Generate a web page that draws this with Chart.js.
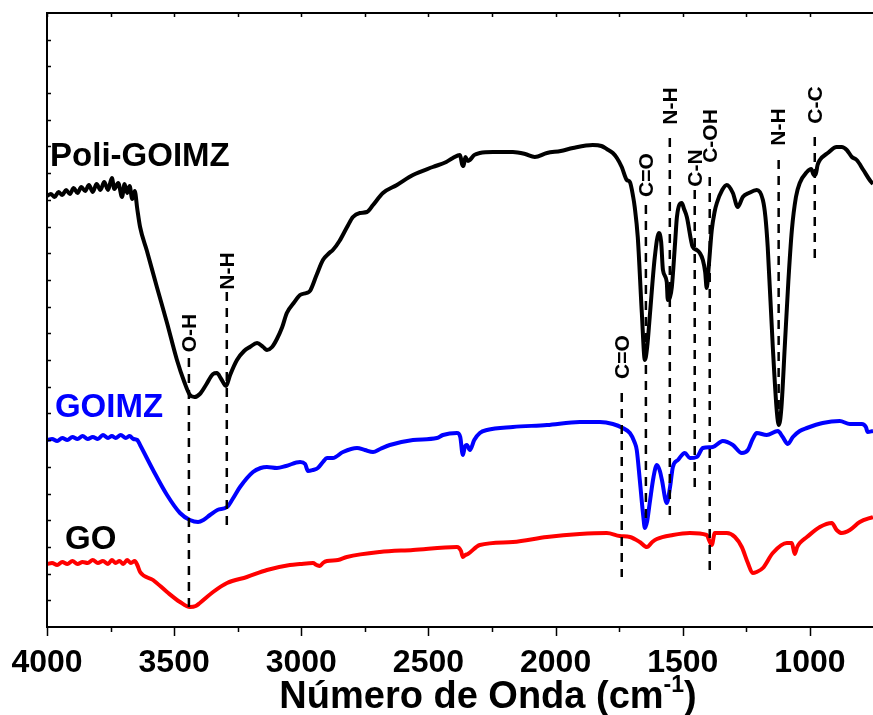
<!DOCTYPE html>
<html>
<head>
<meta charset="utf-8">
<script src="https://cdn.jsdelivr.net/npm/chart.js@4.4.0/dist/chart.umd.min.js"></script>
<style>
html, body { margin: 0; padding: 0; background: #fff; }
</style>
</head>
<body>
<canvas id="ftir" width="873" height="715"></canvas>
<script>
// Poli-GOIMZ (preto)
var wnPoli = [4000, 3985, 3970, 3955, 3940, 3925, 3910, 3895, 3880, 3865, 3850, 3835, 3820, 3805, 3790, 3775, 3760, 3745, 3735, 3720,
    3705, 3695, 3685, 3675, 3665, 3655, 3645, 3634, 3607, 3568, 3528, 3489, 3460, 3438, 3420, 3399, 3375, 3347, 3332, 3315,
    3296, 3280, 3253, 3225, 3202, 3174, 3150, 3135, 3115, 3096, 3075, 3057, 3030, 3005, 2980, 2966, 2940, 2915, 2890, 2876,
    2850, 2820, 2797, 2770, 2742, 2718, 2679, 2624, 2561, 2483, 2430, 2404, 2376, 2368, 2362, 2355, 2345, 2337, 2320, 2298,
    2247, 2168, 2120, 2082, 2034, 1980, 1932, 1854, 1820, 1799, 1775, 1759, 1740, 1720, 1708, 1695, 1689, 1677, 1661, 1649,
    1640, 1630, 1610, 1594, 1585, 1578, 1563, 1559, 1550, 1543, 1530, 1523, 1504, 1495, 1484, 1461, 1445, 1433, 1421, 1412,
    1406, 1398, 1386, 1375, 1366, 1345, 1327, 1303, 1284, 1264, 1240, 1209, 1185, 1175, 1166, 1146, 1130, 1122, 1112, 1099,
    1085, 1071, 1055, 1040, 1012, 995, 985, 978, 970, 961, 930, 895, 875, 855, 835, 816, 790, 765, 752];
var tPoli = [431, 433, 430, 435, 432, 437, 433, 439, 434, 440, 436, 442, 435, 443, 437, 445, 437, 449, 438, 444,
    430, 443, 434, 441, 428, 436, 418, 400, 376, 340, 304, 267, 245, 232, 230, 233, 242, 253, 254, 248,
    241, 252, 267, 276, 280, 284, 280, 277, 280, 288, 300, 314, 324, 332, 334, 336, 352, 367, 374, 377,
    386, 400, 410, 414, 415, 422, 434, 442, 452, 460, 465, 469, 472, 463, 461, 470, 466, 467, 472, 474,
    475, 475, 473, 470, 474, 476, 479, 482, 481, 478, 474, 469, 460, 447, 445, 430, 420, 390, 314, 267,
    280, 310, 370, 394, 385, 357, 345, 327, 330, 340, 385, 410, 424, 418, 410, 380, 377, 374, 367, 355,
    339, 360, 397, 415, 424, 437, 442, 434, 420, 430, 434, 437, 427, 410, 380, 280, 215, 202, 220, 280,
    345, 397, 430, 444, 455, 458, 452, 452, 462, 467, 474, 480, 480, 477, 470, 467, 457, 447, 443];

// GOIMZ (azul)
var wnGoimz = [4000, 3980, 3960, 3940, 3920, 3900, 3880, 3860, 3840, 3820, 3800, 3780, 3760, 3745, 3730, 3710, 3690, 3675, 3660, 3645,
    3634, 3583, 3528, 3477, 3438, 3406, 3385, 3359, 3330, 3292, 3270, 3241, 3190, 3160, 3135, 3096, 3060, 3005, 2985, 2974,
    2955, 2935, 2915, 2899, 2876, 2836, 2781, 2750, 2718, 2690, 2652, 2561, 2467, 2443, 2388, 2375, 2365, 2357, 2349, 2337,
    2320, 2298, 2270, 2168, 2034, 1905, 1826, 1775, 1736, 1708, 1690, 1681, 1669, 1655, 1649, 1640, 1630, 1615, 1602, 1590,
    1582, 1563, 1550, 1539, 1519, 1492, 1472, 1445, 1421, 1382, 1343, 1303, 1268, 1244, 1225, 1209, 1170, 1126, 1107, 1087,
    1067, 1040, 1012, 950, 883, 843, 796, 780, 773, 752];
var tGoimz = [187, 188, 186, 189, 187, 190, 188, 191, 188, 190, 188, 192, 189, 191, 189, 192, 189, 191, 188, 187,
    182, 157, 132, 114, 107, 105, 107, 112, 117, 120, 128, 140, 155, 159, 160, 159, 161, 165, 163, 156,
    157, 159, 165, 169, 169, 175, 179, 177, 175, 178, 182, 187, 189, 192, 194, 190, 172, 180, 182, 177,
    187, 194, 197, 200, 202, 205, 205, 203, 199, 194, 185, 177, 147, 110, 99, 106, 124, 150, 162, 156,
    147, 124, 140, 160, 167, 174, 169, 170, 179, 180, 186, 182, 174, 177, 188, 194, 192, 196, 190, 183,
    190, 196, 199, 204, 206, 203, 203, 200, 195, 196];

// GO (vermelho)
var wnGo = [4000, 3980, 3960, 3940, 3920, 3900, 3880, 3860, 3840, 3820, 3800, 3780, 3760, 3745, 3730, 3715, 3700, 3685, 3670, 3655,
    3645, 3634, 3583, 3528, 3477, 3438, 3415, 3399, 3347, 3292, 3214, 3135, 3045, 3005, 2954, 2940, 2927, 2915, 2899, 2856,
    2821, 2691, 2561, 2388, 2372, 2365, 2355, 2345, 2298, 2168, 2034, 1905, 1799, 1748, 1708, 1669, 1641, 1620, 1602, 1539,
    1472, 1406, 1395, 1386, 1374, 1327, 1295, 1268, 1244, 1225, 1210, 1185, 1146, 1091, 1071, 1060, 1050, 1040, 1012, 961,
    914, 895, 875, 843, 804, 752];
var tGo = [63, 64, 62, 65, 63, 66, 63, 65, 64, 67, 64, 66, 63, 67, 64, 66, 63, 67, 64, 66,
    62, 55, 47, 35, 25, 20, 21, 24, 35, 44, 50, 57, 62, 63, 64, 62, 61, 64, 66, 67,
    70, 75, 77, 80, 76, 70, 72, 73, 82, 85, 90, 93, 94, 91, 90, 85, 80, 85, 88, 92,
    94, 92, 86, 82, 94, 94, 90, 80, 64, 54, 55, 59, 74, 84, 84, 73, 80, 84, 90, 100,
    104, 97, 94, 97, 105, 110];

// bandas atribuidas (linhas tracejadas)
var bandNome = ['O-H', 'N-H', 'C=O', 'C=O', 'N-H', 'C-N', 'C-OH', 'N-H', 'C-C'];
var bandPos = [3442, 3293, 1740, 1645, 1551, 1453, 1394, 1123, 981];
var bandTopo = [269, 335, 234, 422, 489, 437, 450, 467, 490];
var bandBase = [20, 100, 50, 107, 105, 134, 57, 202, 367];
var bandRotulo = [294, 356, 270, 452, 521, 459, 491, 500, 522];

var xTicks = [4000, 3500, 3000, 2500, 2000, 1500, 1000];

function pontos(wn, t) {
    return wn.map(function (w, i) {
        return {x: w, y: t[i]};
    });
}

var fonte = '"Liberation Sans", Arial, sans-serif';

var extras = {
    id: 'extras',
    afterDatasetsDraw: function (chart) {
        var ctx = chart.ctx;
        var sx = chart.scales.x;
        var sy = chart.scales.y;
        var a = chart.chartArea;
        ctx.save();

        //moldura
        ctx.strokeStyle = '#000';
        ctx.lineWidth = 2;
        ctx.beginPath();
        ctx.moveTo(a.right + 2, a.top);
        ctx.lineTo(a.left, a.top);
        ctx.lineTo(a.left, a.bottom);
        ctx.lineTo(a.right + 2, a.bottom);
        ctx.stroke();

        //ticks do eixo x
        ctx.lineWidth = 1.5;
        ctx.beginPath();
        for (var v = 4000; v >= sx.min; v -= 250) {
            var px = Math.round(sx.getPixelForValue(v)) + 0.5;
            var maior = v % 500 === 0;
            ctx.moveTo(px, a.bottom);
            ctx.lineTo(px, a.bottom + (maior ? 9 : 5));
            ctx.moveTo(px, a.top);
            ctx.lineTo(px, a.top + 4);
        }
        //ticks do eixo y
        var passo = 614 / 23;
        for (var k = 1; k < 23; k++) {
            var py = Math.round(sy.getPixelForValue(k * passo)) + 0.5;
            ctx.moveTo(a.left, py);
            ctx.lineTo(a.left + 4, py);
        }
        ctx.stroke();

        //linhas tracejadas
        ctx.lineWidth = 2.5;
        ctx.setLineDash([9, 7]);
        for (var i = 0; i < bandPos.length; i++) {
            var bx = sx.getPixelForValue(bandPos[i]);
            ctx.beginPath();
            ctx.moveTo(bx, sy.getPixelForValue(bandTopo[i]));
            ctx.lineTo(bx, sy.getPixelForValue(bandBase[i]));
            ctx.stroke();
        }
        ctx.setLineDash([]);

        //rotulos das bandas
        ctx.fillStyle = '#000';
        ctx.font = 'bold 21px ' + fonte;
        ctx.textAlign = 'center';
        ctx.textBaseline = 'middle';
        for (var j = 0; j < bandPos.length; j++) {
            ctx.save();
            ctx.translate(sx.getPixelForValue(bandPos[j]) + 1, sy.getPixelForValue(bandRotulo[j]));
            ctx.rotate(-Math.PI / 2);
            ctx.fillText(bandNome[j], 0, 0);
            ctx.restore();
        }

        //nomes das amostras
        ctx.textAlign = 'left';
        ctx.textBaseline = 'alphabetic';
        ctx.font = 'bold 33px ' + fonte;
        ctx.fillStyle = '#000';
        ctx.fillText('Poli-GOIMZ', sx.getPixelForValue(3988), sy.getPixelForValue(461));
        ctx.fillStyle = '#0000ff';
        ctx.fillText('GOIMZ', sx.getPixelForValue(3969), sy.getPixelForValue(210));
        ctx.fillStyle = '#000';
        ctx.fillText('GO', sx.getPixelForValue(3929), sy.getPixelForValue(78));

        //titulo do eixo x com sobrescrito
        var t1 = 'Número de Onda (cm';
        var sup = '-1';
        var t2 = ')';
        ctx.font = 'bold 38px ' + fonte;
        var w1 = ctx.measureText(t1).width;
        var w3 = ctx.measureText(t2).width;
        ctx.font = 'bold 23px ' + fonte;
        var w2 = ctx.measureText(sup).width;
        var x0 = 488 - (w1 + w2 + w3) / 2;
        var base = 708;
        ctx.font = 'bold 38px ' + fonte;
        ctx.fillText(t1, x0, base);
        ctx.fillText(t2, x0 + w1 + w2, base);
        ctx.font = 'bold 23px ' + fonte;
        ctx.fillText(sup, x0 + w1, base - 16);

        ctx.restore();
    }
};

var ctx = document.getElementById('ftir').getContext('2d');
var config = {
    type: 'line',
    data: {
        datasets: [
            {label: 'Poli-GOIMZ', data: pontos(wnPoli, tPoli), borderColor: '#000000'},
            {label: 'GOIMZ', data: pontos(wnGoimz, tGoimz), borderColor: '#0000ff'},
            {label: 'GO', data: pontos(wnGo, tGo), borderColor: '#ff0000'}
        ]
    },
    options: {
        responsive: false,
        animation: false,
        devicePixelRatio: 1,
        layout: {padding: {left: 47, right: 0, top: 13, bottom: 0}},
        elements: {
            point: {radius: 0},
            line: {borderWidth: 4, cubicInterpolationMode: 'monotone', fill: false}
        },
        plugins: {
            legend: {display: false},
            tooltip: {enabled: false}
        },
        scales: {
            x: {
                type: 'linear',
                reverse: true,
                min: 752,
                max: 4000,
                grid: {display: true, drawOnChartArea: false, drawTicks: false},
                border: {display: false},
                afterBuildTicks: function (scale) {
                    scale.ticks = xTicks.map(function (v) { return {value: v}; });
                },
                afterFit: function (scale) {
                    scale.height = 88;
                    scale.paddingLeft = 0;
                    scale.paddingRight = 0;
                },
                ticks: {
                    color: '#000',
                    padding: 17,
                    maxRotation: 0,
                    autoSkip: false,
                    callback: function (value) { return String(value); },
                    font: {family: fonte, size: 32, weight: 'bold'}
                }
            },
            y: {
                display: false,
                min: 0,
                max: 614
            }
        }
    },
    plugins: [extras]
};
var myChart = new Chart(ctx, config);
</script>
</body>
</html>
